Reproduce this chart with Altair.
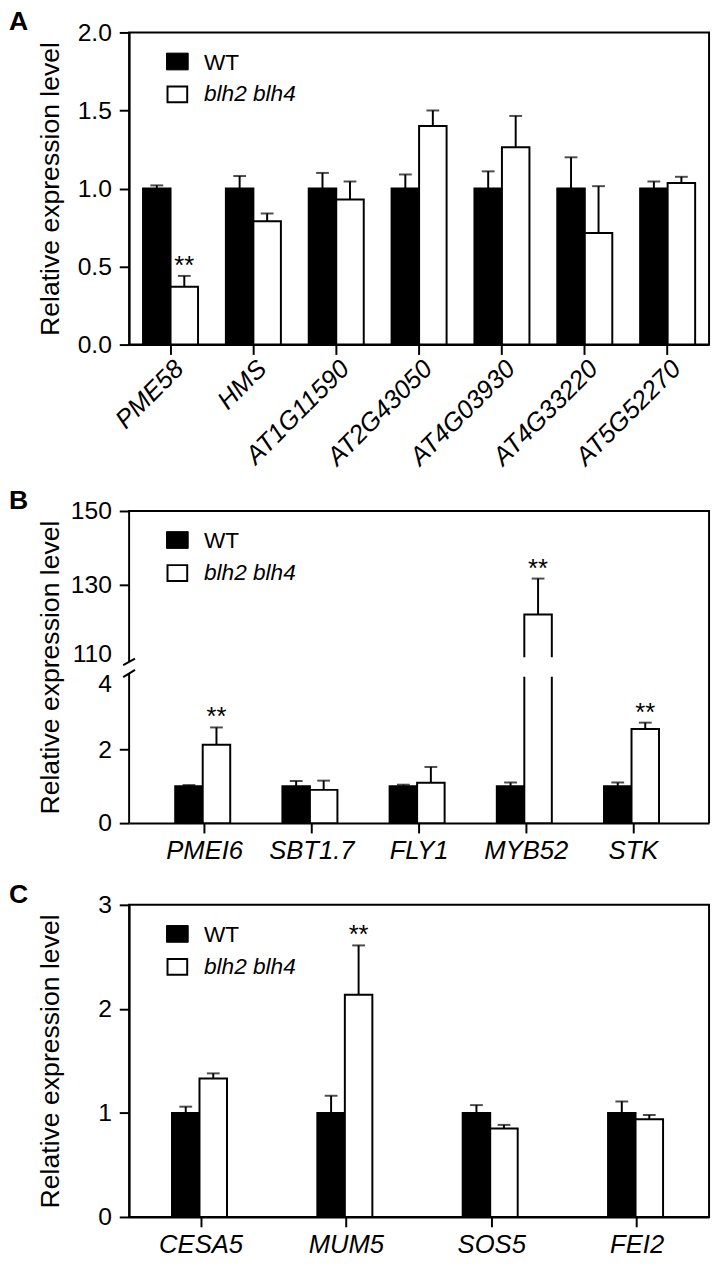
import altair as alt
import pandas as pd

# ---------------- data ----------------
GENOTYPES = ["WT", "blh2 blh4"]

A_GENES = ["PME58", "HMS", "AT1G11590", "AT2G43050", "AT4G03930", "AT4G33220", "AT5G52270"]
A_WT = [1.0, 1.0, 1.0, 1.0, 1.0, 1.0, 1.0]
A_WT_ERR = [0.02, 0.08, 0.10, 0.09, 0.11, 0.20, 0.045]
A_MUT = [0.37, 0.79, 0.93, 1.40, 1.265, 0.715, 1.035]
A_MUT_ERR = [0.07, 0.05, 0.115, 0.10, 0.20, 0.30, 0.04]
A_SIG = ["**", "", "", "", "", "", ""]

B_GENES = ["PMEI6", "SBT1.7", "FLY1", "MYB52", "STK"]
B_WT = [1.0, 1.0, 1.0, 1.0, 1.0]
B_WT_ERR = [0.03, 0.14, 0.04, 0.10, 0.10]
B_MUT = [2.12, 0.90, 1.09, 122.0, 2.55]
B_MUT_ERR = [0.47, 0.25, 0.43, 9.7, 0.17]
B_SIG = ["**", "", "", "**", "**"]

C_GENES = ["CESA5", "MUM5", "SOS5", "FEI2"]
C_WT = [1.0, 1.0, 1.0, 1.0]
C_WT_ERR = [0.06, 0.165, 0.075, 0.11]
C_MUT = [1.33, 2.135, 0.85, 0.94]
C_MUT_ERR = [0.05, 0.475, 0.035, 0.04]
C_SIG = ["", "**", "", ""]

# broken axis of panel B: lower part 0-4, upper part 110-150
B_LOW_MAX = 4.0
B_HIGH_MIN = 110.0
B_HIGH_MAX = 150.0
B_GAP = 0.45
B_RATIO = 0.1

FONT = "Liberation Sans"
W = 589
H = 317


def b_pos(v):
    if v <= B_LOW_MAX:
        return v
    return B_LOW_MAX + B_GAP + (v - B_HIGH_MIN) * B_RATIO


def build_df(genes, wt, wt_err, mut, mut_err, sig, tf=lambda v: v):
    rows = []
    for i, g in enumerate(genes):
        for gt, m, e, s in ((GENOTYPES[0], wt[i], wt_err[i], ""),
                            (GENOTYPES[1], mut[i], mut_err[i], sig[i])):
            rows.append({"gene": g, "genotype": gt, "mean": m, "err": e,
                         "ym": tf(m), "ytop": tf(m + e), "sig": s})
    return pd.DataFrame(rows)


def legend_layers():
    d0 = pd.DataFrame({"genotype": [GENOTYPES[0]]})
    d1 = pd.DataFrame({"genotype": [GENOTYPES[1]]})
    sq0 = alt.Chart(d0).mark_rect(fill="black", stroke="black", strokeWidth=1).encode(
        x=alt.value(38), x2=alt.value(60), y=alt.value(21), y2=alt.value(38))
    sq1 = alt.Chart(d1).mark_rect(fill="white", stroke="black", strokeWidth=2).encode(
        x=alt.value(39), x2=alt.value(59), y=alt.value(55), y2=alt.value(71))
    t0 = alt.Chart(d0).mark_text(align="left", baseline="middle", fontSize=23, font=FONT,
                                 color="black").encode(
        x=alt.value(76), y=alt.value(31), text="genotype:N")
    t1 = alt.Chart(d1).mark_text(align="left", baseline="middle", fontSize=23, font=FONT,
                                 fontStyle="italic", color="black").encode(
        x=alt.value(76), y=alt.value(63), text="genotype:N")
    return [sq0, sq1, t0, t1]


def panel(df, genes, letter, ymax, pin, pout, yaxis, label_angle=0, broken=False):
    if label_angle:
        xaxis = alt.Axis(title=None, labelAngle=label_angle, labelAlign="right",
                         labelBaseline="top", labelFontStyle="italic", labelFontSize=26,
                         labelPadding=1)
    else:
        xaxis = alt.Axis(title=None, labelAngle=0, labelFontStyle="italic",
                         labelFontSize=26, labelPadding=5)
    x = alt.X("gene:N", sort=genes, axis=xaxis,
              scale=alt.Scale(paddingInner=pin, paddingOuter=pout))
    xo = alt.XOffset("genotype:N", sort=GENOTYPES,
                     scale=alt.Scale(paddingInner=0, paddingOuter=0))
    y = alt.Y("ym:Q", axis=yaxis, scale=alt.Scale(domain=[0, ymax], nice=False, zero=True))

    base = alt.Chart(df)
    bars = base.mark_bar(stroke="black", strokeWidth=2).encode(
        x=x, xOffset=xo, y=y,
        fill=alt.Fill("genotype:N", scale=alt.Scale(domain=GENOTYPES, range=["black", "white"]),
                      legend=None))
    err = base.mark_rule(color="black", strokeWidth=2).encode(
        x=x, xOffset=xo, y="ym:Q", y2="ytop:Q")
    cap = base.mark_tick(color="black", thickness=2, size=13, orient="horizontal").encode(
        x=x, xOffset=xo, y="ytop:Q")
    stars = base.transform_filter("datum.sig != ''").mark_text(
        fontSize=26, font=FONT, color="black", baseline="alphabetic", dy=-2).encode(
        x=x, xOffset=xo, y="ytop:Q", text="sig:N")

    layers = [bars]
    if broken:
        big = df[df["mean"] > B_LOW_MAX].copy()
        big["g0"] = b_pos(B_LOW_MAX)
        big["g1"] = b_pos(B_HIGH_MIN)
        gap = alt.Chart(big).mark_bar(fill="white", stroke="white", strokeWidth=3).encode(
            x=x, xOffset=xo, y="g0:Q", y2="g1:Q")
        layers.append(gap)
    layers += [err, cap, stars]

    if broken:
        seg = pd.DataFrame({"y": [b_pos(0), b_pos(B_HIGH_MIN) - 0.08],
                            "y2": [b_pos(B_LOW_MAX) + 0.05, b_pos(B_HIGH_MAX)]})
        left = alt.Chart(seg).mark_rule(color="black", strokeWidth=2).encode(
            x=alt.value(0), y="y:Q", y2="y2:Q")
        sl = pd.DataFrame({"y": [b_pos(B_LOW_MAX) - 0.05, b_pos(B_HIGH_MIN) - 0.17],
                           "y2": [b_pos(B_LOW_MAX) + 0.15, b_pos(B_HIGH_MIN) - 0.0]})
        slash = alt.Chart(sl).mark_rule(color="black", strokeWidth=2).encode(
            x=alt.value(-6), x2=alt.value(6), y="y:Q", y2="y2:Q")
        frame = pd.DataFrame({"y": [b_pos(0)], "y2": [b_pos(B_HIGH_MAX)]})
        top = alt.Chart(frame).mark_rule(color="black", strokeWidth=2).encode(
            x=alt.value(-1), x2=alt.value(W + 1), y="y2:Q")
        right = alt.Chart(frame).mark_rule(color="black", strokeWidth=2).encode(
            x=alt.value(W), y="y:Q", y2="y2:Q")
        layers += [left, slash, top, right]

    lab = alt.Chart(pd.DataFrame({"p": [letter]})).mark_text(
        align="left", baseline="top", fontSize=27, fontWeight="bold", font=FONT,
        color="black").encode(x=alt.value(-122), y=alt.value(-23), text="p:N")
    layers += legend_layers() + [lab]
    ch = alt.layer(*layers).properties(width=W, height=H)
    if broken:
        ch = ch.properties(view=alt.ViewBackground(stroke=None))
    return ch


YT = "Relative expression level"


def yaxis(values, fmt=None, expr=None, domain=True, break_vals=None):
    kw = dict(title=YT, values=values, titleX=-66, titleY=H / 2, titleAngle=-90,
              titleBaseline="bottom", titleAlign="center", domain=domain,
              labelOverlap=False)
    if fmt:
        kw["format"] = fmt
    if expr:
        kw["labelExpr"] = expr
    if break_vals:
        lo, hi = break_vals
        kw["labelOffset"] = {
            "condition": [
                {"test": "abs(datum.value - %g) < 0.01" % lo, "value": 8},
                {"test": "abs(datum.value - %g) < 0.01" % hi, "value": -5},
            ],
            "value": 0,
        }
        kw["tickOpacity"] = {
            "condition": {"test": "abs(datum.value - %g) < 0.01 || abs(datum.value - %g) < 0.01"
                                  % (lo, hi), "value": 0},
            "value": 1,
        }
    return alt.Axis(**kw)


dfA = build_df(A_GENES, A_WT, A_WT_ERR, A_MUT, A_MUT_ERR, A_SIG)
dfB = build_df(B_GENES, B_WT, B_WT_ERR, B_MUT, B_MUT_ERR, B_SIG, tf=b_pos)
dfC = build_df(C_GENES, C_WT, C_WT_ERR, C_MUT, C_MUT_ERR, C_SIG)

bvals = [b_pos(v) for v in (0, 2, 4, 110, 130, 150)]
bexpr = ("datum.value <= %g ? format(datum.value, 'd') : "
         "format(round(%g + (datum.value - %g) / %g), 'd')"
         % (B_LOW_MAX + 0.001, B_HIGH_MIN, b_pos(B_HIGH_MIN), B_RATIO))

pA = panel(dfA, A_GENES, "A", 2.0, 0.336, 0.168,
           yaxis([0, 0.5, 1.0, 1.5, 2.0], fmt=".1f"), label_angle=-45)
pB = panel(dfB, B_GENES, "B", b_pos(B_HIGH_MAX), 0.45, 0.43,
           yaxis(bvals, expr=bexpr, domain=False,
                 break_vals=(b_pos(B_LOW_MAX), b_pos(B_HIGH_MIN))), broken=True)
pC = panel(dfC, C_GENES, "C", 3.0, 0.6, 0.295,
           yaxis([0, 1, 2, 3], fmt="d"))

chart = alt.vconcat(pA, alt.vconcat(pB, pC, spacing=17), spacing=16).properties(
    padding={"left": 0, "top": -10, "right": 2, "bottom": 0}
).configure_view(stroke="black", strokeWidth=2).configure_axis(
    grid=False, domainColor="black", domainWidth=2, tickColor="black", tickWidth=2,
    tickSize=10, labelFont=FONT, labelFontSize=25, labelColor="black", labelPadding=8,
    titleFont=FONT, titleFontSize=27, titleFontWeight="normal", titleColor="black"
)

chart.save("out.html", embed_options={"renderer": "svg", "actions": False})
